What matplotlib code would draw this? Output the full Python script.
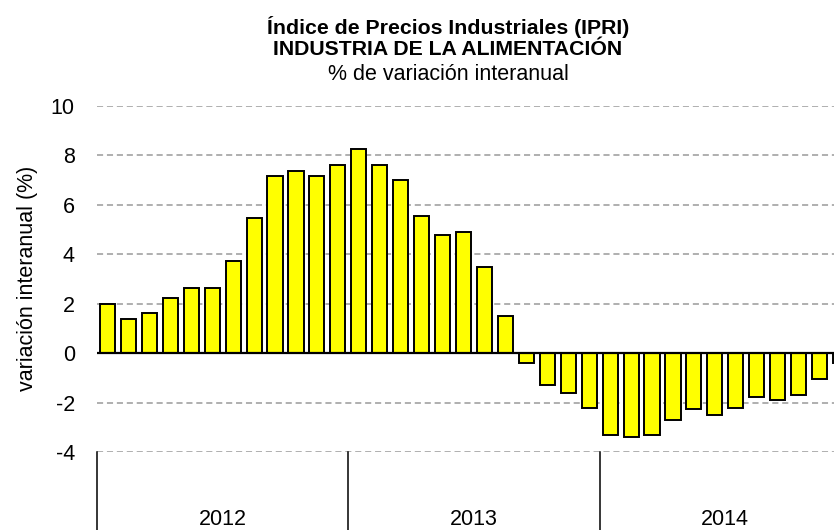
import matplotlib
matplotlib.use('Agg')
import matplotlib.pyplot as plt
import matplotlib.transforms as mtransforms
import numpy as np

plt.rcParams['font.family'] = ['Liberation Sans', 'DejaVu Sans']

# Monthly year-on-year change, Jan 2012 - Dec 2014
years = ['2012', '2013', '2014']
values_2012 = [1.97, 1.38, 1.61, 2.25, 2.62, 2.62, 3.71, 5.48, 7.15, 7.37, 7.15, 7.60]
values_2013 = [8.25, 7.60, 7.02, 5.55, 4.80, 4.89, 3.50, 1.52, -0.38, -1.30, -1.60, -2.20]
values_2014 = [-3.30, -3.38, -3.30, -2.70, -2.28, -2.50, -2.20, -1.77, -1.91, -1.69, -1.04, -0.40]
values = values_2012 + values_2013 + values_2014
y_ticks = [-4, -2, 0, 2, 4, 6, 8, 10]

W, H = 834, 530
FS = 15.5
fig = plt.figure(figsize=(W / 100, H / 100), dpi=100)
# plot area runs past the right edge (the source picture is cropped)
ax = fig.add_axes([97 / W, (H - 452) / H, 754 / W, 346 / H])

x = np.arange(len(values))
ax.bar(x, values, width=0.72, color='#ffff00', edgecolor='black', linewidth=1.4, zorder=3)

ax.set_xlim(-0.5, len(values) - 0.5)
ax.set_ylim(-4, 10)
ax.set_yticks(y_ticks)
ax.set_yticklabels([str(t) for t in y_ticks], fontsize=FS)
ax.tick_params(axis='y', length=0, pad=16)
ax.set_xticks([])

for t in y_ticks:
    if t != 0:
        ax.axhline(t, color='#9a9a9a', lw=1.1, ls=(0, (4, 2.5)), zorder=1)
ax.axhline(0, color='black', lw=1.6, zorder=4)

for s in ax.spines.values():
    s.set_visible(False)

# year separators and labels below the plot area
trans = mtransforms.blended_transform_factory(ax.transData, ax.transAxes)
for k in range(len(years) + 1):
    xb = k * 12 - 0.5
    ax.plot([xb, xb], [0, -0.3], color='black', lw=1.1, transform=trans, clip_on=False)
for k, yr in enumerate(years):
    ax.text(k * 12 + 5.5, -(525 - 452) / 346, yr, transform=trans,
            ha='center', va='baseline', fontsize=FS)

fig.text(27.5 / W, 1 - 278 / H, 'variación interanual (%)', rotation=90,
         ha='center', va='center', fontsize=FS)

cx = 448 / W
fig.text(cx, 1 - 34 / H, 'Índice de Precios Industriales (IPRI)', ha='center', va='baseline',
         fontsize=15.3, fontweight='bold')
fig.text(cx, 1 - 55 / H, 'INDUSTRIA DE LA ALIMENTACIÓN', ha='center', va='baseline',
         fontsize=15.3, fontweight='bold')
fig.text(cx, 1 - 80 / H, '% de variación interanual', ha='center', va='baseline', fontsize=FS)

fig.savefig('out.png', dpi=100)
